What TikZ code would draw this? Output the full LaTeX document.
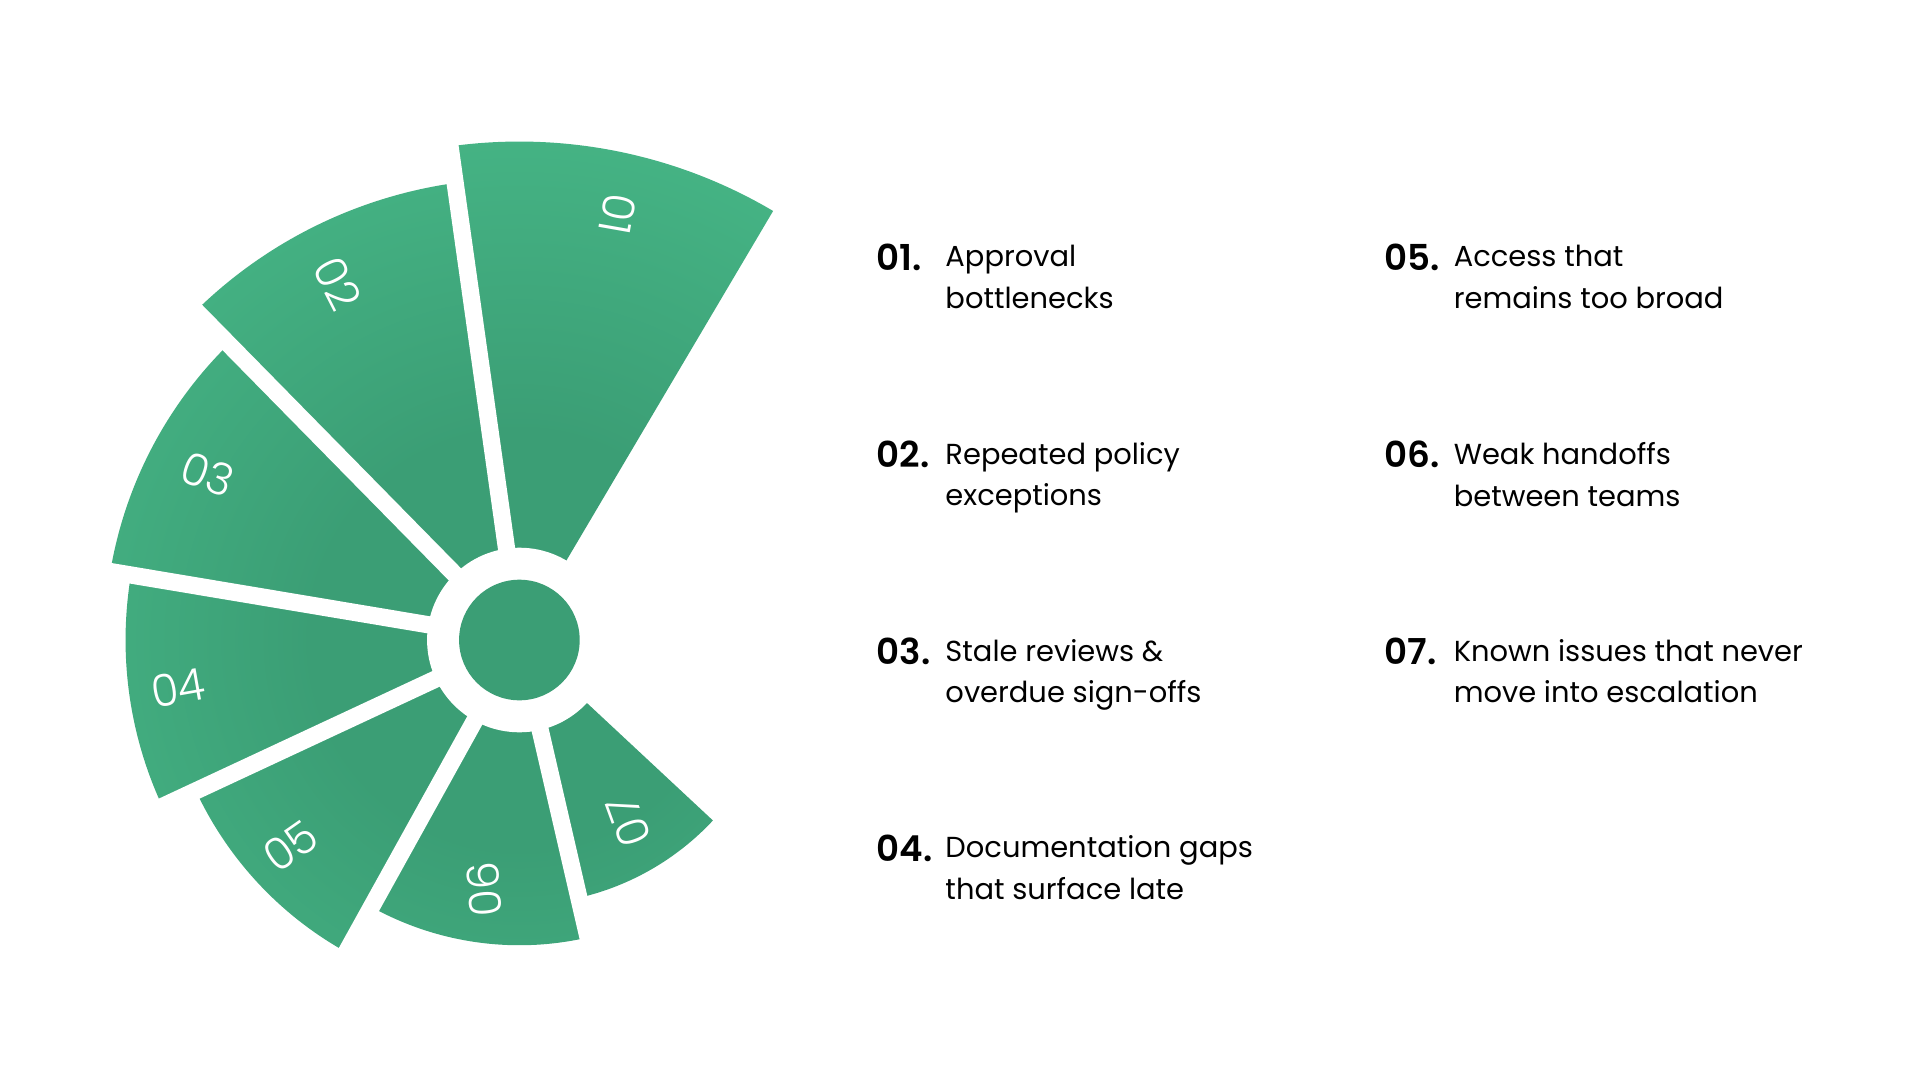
\documentclass[tikz,border=0pt]{standalone}
\usepackage{fontspec}
\usetikzlibrary{calc}
\setmainfont{Poppins}
\newfontfamily\popsb{Poppins SemiBold}
\newfontfamily\poplt{Poppins Light}
\definecolor{gin}{HTML}{3B9E75}
\definecolor{gout}{HTML}{4DC490}
\pgfdeclareradialshading{ringshade}{\pgfpoint{0bp}{0bp}}{color(0bp)=(gin); color(10bp)=(gin); color(36bp)=(gout); color(50bp)=(gout)}
\begin{document}
\begin{tikzpicture}[x=1pt,y=1pt,
  seclabel/.style={text=white,font=\poplt\fontsize{36}{36}\selectfont},
  num/.style={anchor=north west,font=\popsb\fontsize{29}{34}\selectfont,inner sep=0pt},
  desc/.style={anchor=north west,align=left,font=\fontsize{23.5}{34}\selectfont,inner sep=0pt}]
\useasboundingbox (0,0) rectangle (1560,-877.5);
\coordinate (c) at (422,-520);
\begin{scope}
\clip (c) -- ++(59.4:405) arc[start angle=59.4,end angle=98,radius=405] -- cycle
      (c) -- ++(98:375) arc[start angle=98,end angle=134.5,radius=375] -- cycle
      (c) -- ++(134.5:337) arc[start angle=134.5,end angle=170.5,radius=337] -- cycle
      (c) -- ++(170.5:320) arc[start angle=170.5,end angle=205,radius=320] -- cycle
      (c) -- ++(205:290) arc[start angle=205,end angle=241,radius=290] -- cycle
      (c) -- ++(241:248) arc[start angle=241,end angle=283,radius=248] -- cycle
      (c) -- ++(283:215) arc[start angle=283,end angle=317,radius=215] -- cycle;
\shade[shading=ringshade] (c) circle (420);
\end{scope}
\foreach \a in {98,134.5,170.5,205,241,283}{
  \draw[white,line width=14pt] (c) -- ++(\a:420);}
\fill[white] (c) circle (75);
\fill[gin] (c) circle (49) node (hub) {};
\node[seclabel,rotate=-100] (l1) at ($(c)+(77:355)$) {01};
\node[seclabel,rotate=-63] (l2) at ($(c)+(117:325)$) {02};
\node[seclabel,rotate=-20] (l3) at ($(c)+(152:287)$) {03};
\node[seclabel,rotate=10] (l4) at ($(c)+(188:280)$) {04};
\node[seclabel,rotate=35] (l5) at ($(c)+(222:250)$) {05};
\node[seclabel,rotate=95] (l6) at ($(c)+(262:205)$) {06};
\node[seclabel,rotate=110] (l7) at ($(c)+(301:172)$) {07};
\foreach \n/\x/\y/\t in {1/712/199/{Approval\\bottlenecks},
  2/712/359/{Repeated policy\\exceptions},
  3/712/519/{Stale reviews \&\\overdue sign-offs},
  4/712/679/{Documentation gaps\\that surface late},
  5/1125/199/{Access that\\remains too broad},
  6/1125/359/{Weak handoffs\\between teams},
  7/1125/519/{Known issues that never\\move into escalation}}{
  \node[num] (n\n) at (\x,-\y+1) {0\n.};
  \node[desc] (d\n) at (\x+56,-\y) {\t};
}
\end{tikzpicture}
\end{document}
